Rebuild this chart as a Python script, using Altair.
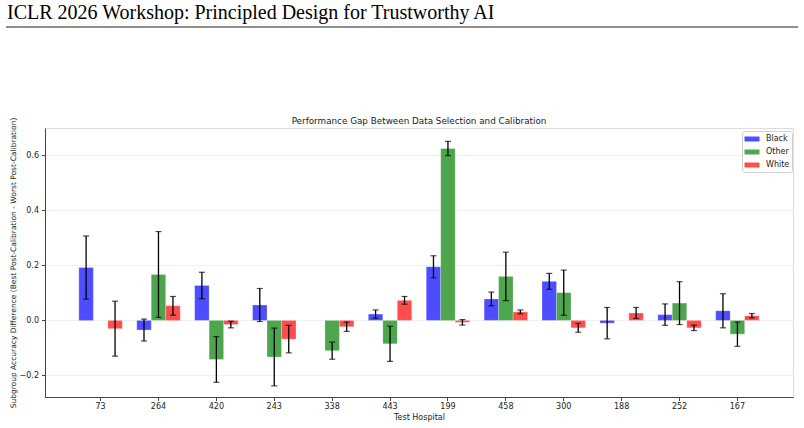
import altair as alt
import pandas as pd

hospitals = ["73", "264", "420", "243", "338", "443", "199", "458", "300", "188", "252", "167"]
groups = ["Black", "Other", "White"]
colors = ["#4d4dff", "#4da64d", "#ff4d4d"]

black = [0.192, -0.035, 0.127, 0.056, None, 0.023, 0.195, 0.078, 0.142, -0.010, 0.021, 0.035]
black_err = [0.115, 0.040, 0.048, 0.060, None, 0.015, 0.040, 0.025, 0.029, 0.057, 0.039, 0.062]
other = [None, 0.167, -0.142, -0.133, -0.110, -0.085, 0.625, 0.160, 0.101, None, 0.063, -0.050]
other_err = [None, 0.156, 0.083, 0.105, 0.031, 0.064, 0.026, 0.088, 0.082, None, 0.078, 0.044]
white = [-0.030, 0.053, -0.015, -0.068, -0.023, 0.073, -0.007, 0.031, -0.027, 0.027, -0.027, 0.017]
white_err = [0.100, 0.034, 0.012, 0.050, 0.017, 0.014, 0.010, 0.007, 0.016, 0.020, 0.010, 0.008]

header = "ICLR 2026 Workshop: Principled Design for Trustworthy AI"
title = "Performance Gap Between Data Selection and Calibration"
x_title = "Test Hospital"
y_title = "Subgroup Accuracy Difference (Best Post-Calibration - Worst Post-Calibration)"

rows = []
for g, vals, errs in [("Black", black, black_err), ("Other", other, other_err), ("White", white, white_err)]:
    for h, v, e in zip(hospitals, vals, errs):
        if v is None:
            continue
        rows.append({"hospital": h, "group": g, "value": v, "lo": v - e, "hi": v + e})
df = pd.DataFrame(rows)

W, H = 748, 269
FONT = "DejaVu Sans"

x_enc = alt.X("hospital:N", sort=hospitals,
              scale=alt.Scale(domain=hospitals, paddingInner=0, paddingOuter=0.46),
              axis=alt.Axis(title=x_title, labelAngle=0, labelFontSize=8, titleFontSize=8,
                            labelFont=FONT, titleFont=FONT, labelColor="#222", titleColor="#222",
                            tickSize=3.5, tickColor="#444", domainColor="#444", labelPadding=2,
                            titlePadding=3, titleFontWeight="normal", grid=False))
xoff = alt.XOffset("group:N", scale=alt.Scale(domain=groups, paddingInner=0, paddingOuter=0.5))
y_scale = alt.Scale(domain=[-0.2785, 0.6996], nice=False, zero=False)

bars = alt.Chart(df).mark_bar(stroke="white", strokeOpacity=0.5, strokeWidth=0.5).encode(
    x=x_enc,
    xOffset=xoff,
    y=alt.Y("value:Q", scale=y_scale,
            axis=alt.Axis(title=y_title, values=[-0.2, 0.0, 0.2, 0.4, 0.6], format=".1f",
                          labelFontSize=8, titleFontSize=7.5, labelFont=FONT, titleFont=FONT,
                          labelColor="#222", titleColor="#222", tickSize=3.5, tickColor="#444",
                          domainColor="#444", grid=True, gridColor="#ececec", gridWidth=0.8,
                          labelPadding=3, titlePadding=2, titleFontWeight="normal")),
    y2=alt.datum(0),
    color=alt.Color("group:N", scale=alt.Scale(domain=groups, range=colors),
                    legend=alt.Legend(title=None, orient="none", legendX=697, legendY=3,
                                      labelFontSize=8, labelFont=FONT, labelColor="#222",
                                      symbolType="M-1,-0.45L1.727,-0.45L1.727,0.45L-1,0.45Z",
                                      symbolSize=121, symbolStrokeWidth=0, rowPadding=3,
                                      padding=2.5, fillColor="white", strokeColor="#d0d0d0",
                                      cornerRadius=2, labelOffset=10.5)),
)

err = alt.Chart(df).mark_rule(color="black", strokeWidth=1.3).encode(
    x=alt.X("hospital:N", sort=hospitals), xOffset=xoff,
    y=alt.Y("lo:Q", scale=y_scale), y2="hi:Q")
cap_hi = alt.Chart(df).mark_tick(color="black", thickness=1.2, size=6).encode(
    x=alt.X("hospital:N", sort=hospitals), xOffset=xoff,
    y=alt.Y("hi:Q", scale=y_scale))
cap_lo = alt.Chart(df).mark_tick(color="black", thickness=1.2, size=6).encode(
    x=alt.X("hospital:N", sort=hospitals), xOffset=xoff,
    y=alt.Y("lo:Q", scale=y_scale))

head = alt.Chart(pd.DataFrame({"t": [header]})).mark_text(
    font="Liberation Serif", fontSize=20, align="left", baseline="alphabetic", color="black",
    clip=False).encode(x=alt.value(-38), y=alt.value(-109.5), text="t:N")
head_line = alt.Chart(pd.DataFrame({"a": [0]})).mark_rule(color="#222", strokeWidth=1.2, clip=False).encode(
    x=alt.value(-39), x2=alt.value(753), y=alt.value(-101))
plot_title = alt.Chart(pd.DataFrame({"t": [title]})).mark_text(
    font=FONT, fontSize=8.8, align="center", baseline="middle", color="#222", clip=False
).encode(x=alt.value(W / 2), y=alt.value(-7), text="t:N")

chart = alt.layer(bars, err, cap_hi, cap_lo, head, head_line, plot_title).properties(
    width=W, height=H,
    autosize=alt.AutoSizeParams(type="none"),
    padding={"left": 45, "top": 128, "right": 11, "bottom": 31},
).configure_view(stroke="#444", strokeWidth=1).configure(background="white")

chart.save("out.html", embed_options={"renderer": "svg", "actions": False})
